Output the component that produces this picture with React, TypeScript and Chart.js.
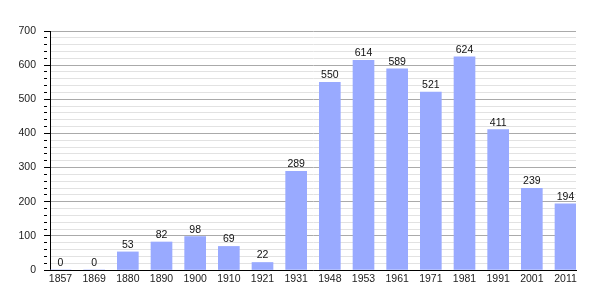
import React, { useEffect, useRef } from "react";
import { Chart, registerables } from "chart.js";

Chart.register(...registerables);

const years = ["1857", "1869", "1880", "1890", "1900", "1910", "1921", "1931", "1948", "1953", "1961", "1971", "1981", "1991", "2001", "2011"];
const population = [0, 0, 53, 82, 98, 69, 22, 289, 550, 614, 589, 521, 624, 411, 239, 194];
const yMin = 0;
const yMax = 700;
const yMajorStep = 100;
const yMinorStep = 20;

const FONT = "'Liberation Sans', Arial, sans-serif";
const FSIZE = 10.5;

const valueLabels = {
  id: "valueLabels",
  afterDatasetsDraw(chart: any) {
    const ctx = chart.ctx;
    const meta = chart.getDatasetMeta(0);
    ctx.save();
    ctx.font = `${FSIZE}px ${FONT}`;
    ctx.fillStyle = "#111";
    ctx.textAlign = "center";
    ctx.textBaseline = "alphabetic";
    meta.data.forEach((bar: any, i: number) => {
      ctx.fillText(String(population[i]), bar.x, bar.y - 4);
    });
    ctx.restore();
  },
};

export default function App() {
  const ref = useRef<HTMLCanvasElement>(null);
  useEffect(() => {
    if (!ref.current) return;
    const points = population.map((v, i) => ({ x: i, y: v }));
    const chart = new Chart(ref.current, {
      type: "bar",
      data: {
        datasets: [
          {
            data: points as any,
            backgroundColor: "#99aaff",
            borderWidth: 0,
            barThickness: 21,
          },
        ],
      },
      options: {
        animation: false,
        responsive: false,
        layout: { padding: { top: 31, right: 29, bottom: 0, left: 0 } },
        plugins: { legend: { display: false }, tooltip: { enabled: false } },
        scales: {
          x: {
            type: "linear",
            offset: false,
            min: -0.3119,
            max: years.length - 1 + 0.3119,
            grid: { display: false, drawTicks: false },
            border: { display: true, color: "#000", width: 1 },
            afterBuildTicks: (scale: any) => {
              scale.ticks = years.map((_, i) => ({ value: i }));
            },
            afterFit: (scale: any) => {
              scale.height = 30;
            },
            ticks: {
              autoSkip: false,
              maxRotation: 0,
              padding: 3,
              color: "#222",
              font: { family: FONT, size: FSIZE },
              callback: (v: any) => years[v as number] ?? "",
            },
          },
          y: {
            min: yMin,
            max: yMax,
            afterFit: (scale: any) => {
              scale.width = 50;
            },
            border: { display: true, color: "#000", width: 1 },
            grid: {
              color: (c: any) => (c.tick && c.tick.value % yMajorStep === 0 ? "#aaaaaa" : "#e2e2e2"),
              tickColor: "#000",
              tickLength: 6,
              tickBorderDash: (c: any) => (c.tick && c.tick.value % yMajorStep === 0 ? [] : [3, 50]),
            },
            ticks: {
              stepSize: yMinorStep,
              autoSkip: false,
              padding: 8,
              color: "#222",
              font: { family: FONT, size: FSIZE },
              callback: (v: any) => ((v as number) % yMajorStep === 0 ? String(v) : ""),
            },
          },
        },
      },
      plugins: [valueLabels],
    });
    return () => chart.destroy();
  }, []);
  return (
    <div style={{ position: "fixed", left: 0, top: 0, width: 605, height: 300, background: "#fff" }}>
      <canvas ref={ref} width={605} height={300} />
    </div>
  );
}
